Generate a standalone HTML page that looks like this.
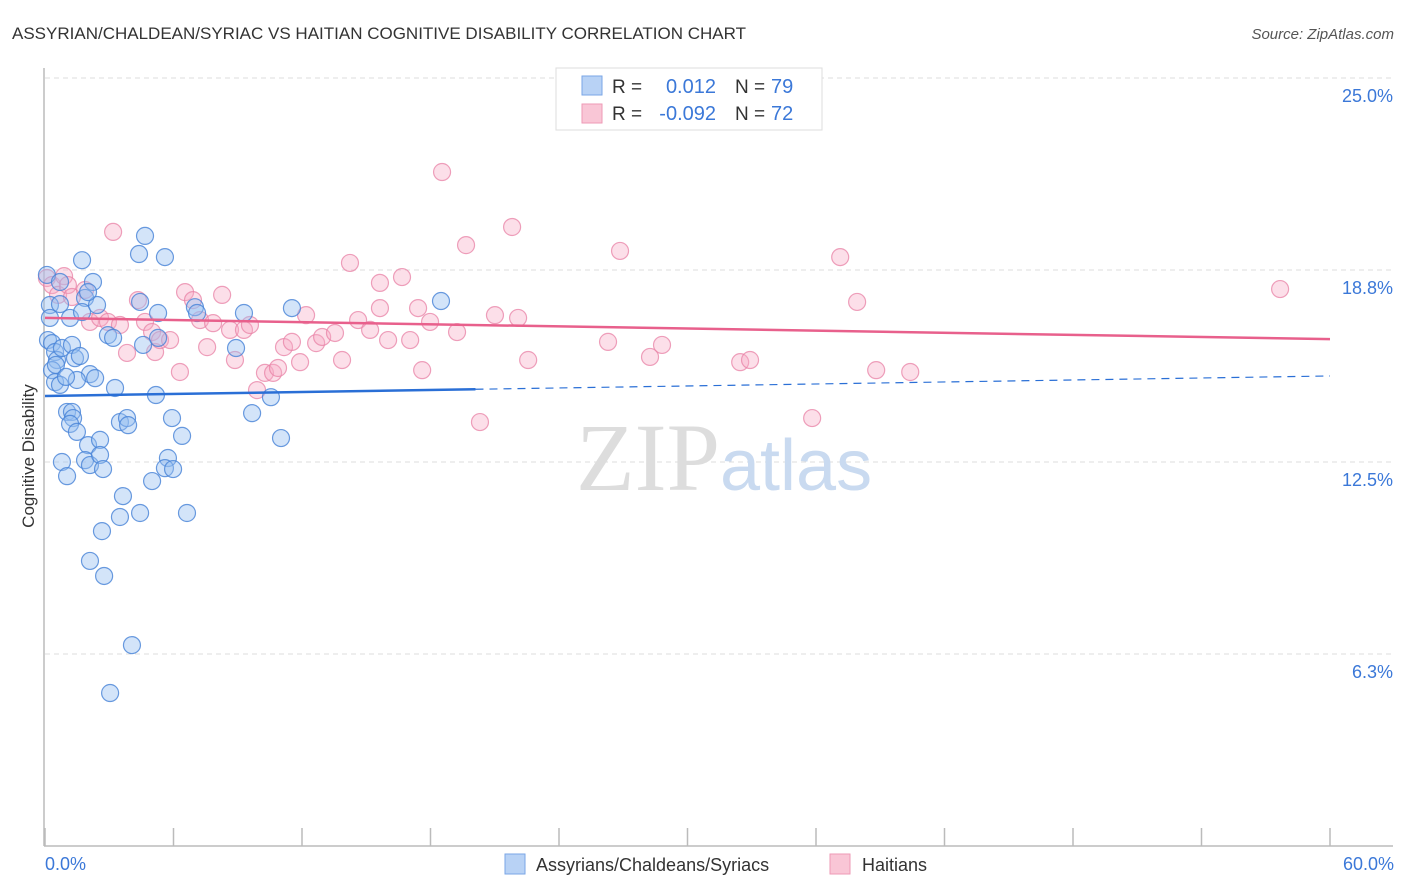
<!DOCTYPE html>
<html><head><meta charset="utf-8"><style>
body{margin:0;background:#fff;font-family:"Liberation Sans",sans-serif}
svg{display:block}
</style></head><body>
<svg width="1406" height="892" xmlns="http://www.w3.org/2000/svg">
<text x="12" y="39" font-size="17" fill="#333">ASSYRIAN/CHALDEAN/SYRIAC VS HAITIAN COGNITIVE DISABILITY CORRELATION CHART</text>
<text x="1394" y="39" font-size="15" fill="#555" font-style="italic" text-anchor="end">Source: ZipAtlas.com</text>
<g id="grid"></g>
<text x="720" y="490" font-size="96" font-family="Liberation Serif" fill="#ddd" text-anchor="end">ZIP</text>
<text x="720" y="490" font-size="72" fill="#c9daf0">atlas</text>
<g id="marks"></g>
<text x="34" y="456" font-size="17" fill="#333" text-anchor="middle" transform="rotate(-90 34 456)">Cognitive Disability</text>
<text x="45" y="870" font-size="18" fill="#3b78d8">0.0%</text>
<text x="1394" y="870" font-size="18" fill="#3b78d8" text-anchor="end">60.0%</text>
<g>
<rect x="556" y="68" width="266" height="62" fill="#fff" stroke="#ddd"/>
<rect x="582" y="76" width="20" height="19" fill="#b8d2f5" stroke="#7aa6e6"/>
<rect x="582" y="104" width="20" height="19" fill="#f9c6d6" stroke="#ee9ab6"/>
<text x="612" y="93" font-size="19" fill="#333">R =</text>
<text x="716" y="93" font-size="20" fill="#3b78d8" text-anchor="end">0.012</text>
<text x="735" y="93" font-size="19" fill="#333">N =</text>
<text x="771" y="93" font-size="20" fill="#3b78d8">79</text>
<text x="612" y="120" font-size="19" fill="#333">R =</text>
<text x="716" y="120" font-size="20" fill="#3b78d8" text-anchor="end">-0.092</text>
<text x="735" y="120" font-size="19" fill="#333">N =</text>
<text x="771" y="120" font-size="20" fill="#3b78d8">72</text>
</g>
<g>
<rect x="505" y="854" width="20" height="20" fill="#b8d2f5" stroke="#7aa6e6"/>
<text x="536" y="871" font-size="18" fill="#333">Assyrians/Chaldeans/Syriacs</text>
<rect x="830" y="854" width="20" height="20" fill="#f9c6d6" stroke="#ee9ab6"/>
<text x="862" y="871" font-size="18" fill="#333">Haitians</text>
</g>
</svg>
<script>
const yTicks=[25,18.75,12.5,6.25];
const yTickLabels=["25.0%","18.8%","12.5%","6.3%"];
const xTicks=[0,6,12,18,24,30,36,42,48,54,60];
const blueX=[0.09,0.23,0.14,0.33,0.47,0.56,0.33,0.47,0.70,0.79,1.26,1.17,1.40,1.63,1.73,1.87,1.73,2.24,2.43,2.94,3.18,2.10,2.34,1.49,1.03,1.26,1.31,1.17,1.49,2.01,2.57,0.79,1.03,1.87,2.10,2.57,2.71,3.27,3.50,3.83,3.88,3.64,3.50,4.44,2.66,2.10,2.76,4.06,3.04,4.67,4.39,5.60,4.44,5.28,4.58,5.28,7.00,7.10,5.18,5.93,6.40,5.74,5.60,5.98,5.00,6.63,8.92,9.29,11.53,9.67,10.55,11.02,18.49,0.70,0.23,0.70,2.01,0.51,0.98];
const blueY=[18.59,17.61,16.47,16.37,16.08,15.82,15.49,15.10,15.01,16.21,16.31,17.19,15.88,15.95,19.07,17.84,17.38,18.36,17.61,16.63,16.54,15.36,15.23,15.17,14.13,14.13,13.93,13.74,13.48,13.05,13.22,12.50,12.04,12.56,12.40,12.73,12.27,14.91,13.80,13.93,13.70,11.39,10.71,10.84,10.25,9.28,8.79,6.54,4.98,19.86,19.27,19.17,17.71,17.35,16.31,16.54,17.54,17.35,14.68,13.93,13.35,12.63,12.30,12.27,11.88,10.84,16.21,17.35,17.51,14.09,14.61,13.28,17.74,17.64,17.19,18.36,18.03,15.66,15.27];
const pinkX=[0.09,0.33,0.61,0.89,1.07,1.26,1.87,2.10,2.57,2.94,3.50,3.18,3.83,4.34,4.67,5.00,5.14,5.37,5.84,6.30,6.54,6.91,7.24,7.57,7.85,8.27,8.64,8.87,9.29,9.57,9.90,10.27,10.65,10.88,11.16,11.53,11.91,12.19,12.66,12.94,13.54,13.87,14.24,14.62,15.18,15.64,15.64,16.02,16.67,17.05,17.42,17.61,17.98,18.54,19.24,19.66,20.31,21.01,21.81,22.09,22.56,26.29,26.85,28.25,28.81,32.46,32.92,35.82,37.13,37.92,38.81,40.40,57.67];
const pinkY=[18.49,18.26,17.94,18.55,18.26,17.87,18.10,17.06,17.19,17.06,16.96,19.99,16.05,17.77,17.06,16.73,16.08,16.47,16.47,15.43,18.03,17.77,17.12,16.24,17.02,17.94,16.80,15.82,16.80,16.96,14.84,15.40,15.40,15.56,16.24,16.41,15.75,17.28,16.37,16.57,16.70,15.82,18.98,17.12,16.80,18.33,17.51,16.47,18.52,16.47,17.51,15.49,17.06,21.94,16.73,19.56,13.80,17.28,20.15,17.19,15.82,16.41,19.37,15.92,16.31,15.75,15.82,13.93,19.17,17.71,15.49,15.43,18.13];
const blueTrend=[14.65,15.30];
const pinkTrend=[17.19,16.50];
const blueSolidEnd=20.1;
const X=v=>45+v/60*1285, Y=v=>846-v/25*768;
const NS="http://www.w3.org/2000/svg";
function mk(t,a,p){const e=document.createElementNS(NS,t);for(const k in a)e.setAttribute(k,a[k]);p.appendChild(e);return e;}
const grid=document.getElementById('grid'), marks=document.getElementById('marks');
yTicks.forEach((v,i)=>{
 const l=mk('line',{x1:45,x2:1393,y1:Y(v),y2:Y(v),stroke:'#ddd','stroke-dasharray':'5,4'},grid);
 
 
 const t=mk('text',{x:1393,y:Y(v)+24,'font-size':18,fill:'#3b78d8','text-anchor':'end'},grid);
 t.textContent=yTickLabels[i];
 
 
});
const ax=mk('line',{x1:44,x2:44,y1:68,y2:846,stroke:'#bbb','stroke-width':1.5},grid);


const bx=mk('line',{x1:44,x2:1393,y1:846,y2:846,stroke:'#bbb','stroke-width':1.5},grid);


xTicks.forEach(v=>{
 const t=mk('line',{x1:X(v),x2:X(v),y1:828,y2:846,stroke:'#bbb','stroke-width':1.5},grid);
 
 
});
function pts(xs,ys,fill,stroke,name){
 xs.forEach((x,i)=>{
  const c=mk('circle',{cx:X(x),cy:Y(ys[i]),r:8.5,fill:fill,stroke:stroke,'stroke-width':1.2},marks);
  
  
 });
}
pts(pinkX,pinkY,'rgba(246,170,196,0.38)','rgba(232,130,165,0.75)','haitian-point');
pts(blueX,blueY,'rgba(150,190,240,0.42)','rgba(70,130,215,0.8)','assyrian-point');
const slope=(blueTrend[1]-blueTrend[0])/60;
const bl=mk('line',{x1:X(0),y1:Y(blueTrend[0]),x2:X(blueSolidEnd),y2:Y(blueTrend[0]+slope*blueSolidEnd),stroke:'#2a6fd6','stroke-width':2.5},marks);


const bd=mk('line',{x1:X(blueSolidEnd),y1:Y(blueTrend[0]+slope*blueSolidEnd),x2:X(60),y2:Y(blueTrend[1]),stroke:'#2a6fd6','stroke-width':1.2,'stroke-dasharray':'8,6'},marks);


const pl=mk('line',{x1:X(0),y1:Y(pinkTrend[0]),x2:X(60),y2:Y(pinkTrend[1]),stroke:'#e8608c','stroke-width':2.5},marks);


</script>
</body></html>
